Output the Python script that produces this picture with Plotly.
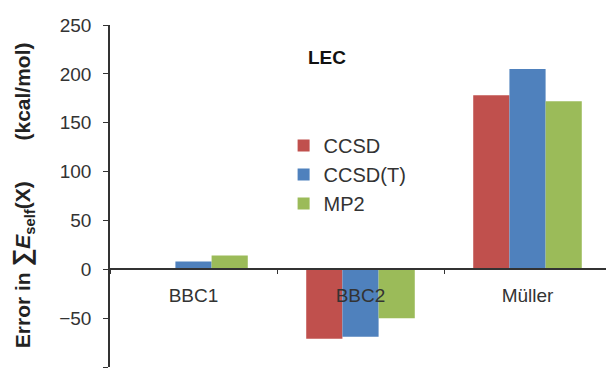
import plotly.graph_objects as go

categories = ["BBC1", "BBC2", "Müller"]
ccsd = [0.5, -71, 178]
ccsd_t = [8, -69, 205]
mp2 = [14, -50, 172]
series_names = ["CCSD", "CCSD(T)", "MP2"]
colors = ["#C0504D", "#4F81BD", "#9BBB59"]
y_ticks = [-100, -50, 0, 50, 100, 150, 200, 250]

FONT = "Liberation Sans, Arial, sans-serif"
SP = "\u00a0" * 7

fig = go.Figure()
for i, (name, vals, col) in enumerate(zip(series_names, [ccsd, ccsd_t, mp2], colors)):
    fig.add_trace(go.Bar(x=categories, y=vals, name=name, marker_color=col,
                         marker_line_width=0, legendgroup=f"g{i}"))

title_text = (f"<b>Error in <span style='font-size:25px'>∑</span><i>E</i>"
              f"<sub>self</sub>(X){SP}(kcal/mol)</b>")

fig.update_layout(
    width=606, height=372,
    margin=dict(l=110, r=0, t=25, b=5, autoexpand=False),
    paper_bgcolor="white", plot_bgcolor="white",
    barmode="group", bargap=0.35, bargroupgap=0,
    font=dict(family=FONT, size=19, color="#333333"),
    showlegend=True,
    legend=dict(x=0.35, y=0.705, xanchor="left", yanchor="top",
                bgcolor="rgba(0,0,0,0)", font=dict(size=20, color="#333333"),
                tracegroupgap=0, itemwidth=30),
    annotations=[
        dict(text="<b>LEC</b>", x=0.438, y=0.942, xref="paper", yref="paper",
             showarrow=False, font=dict(size=19, color="#111111")),
        dict(text=title_text,
             x=-0.177, y=0.503, xref="paper", yref="paper", textangle=-90,
             xanchor="center", yanchor="middle",
             showarrow=False, font=dict(size=21, color="#222222")),
    ],
)
fig.update_xaxes(
    range=[-0.5, 2.47], anchor="free", position=100/350,
    showline=True, linecolor="#333333", linewidth=1.5,
    ticks="outside", tickson="boundaries", ticklen=4, tickcolor="#333333",
    ticklabelstandoff=9, tickfont=dict(size=19, color="#333333"),
    showgrid=False, zeroline=False, automargin=False,
)
fig.update_yaxes(
    range=[-100, 250], tickvals=y_ticks,
    showline=True, linecolor="#333333", linewidth=1.5,
    ticks="outside", ticklen=5, tickcolor="#333333",
    ticklabelstandoff=8,
    tickfont=dict(size=19, color="#333333"),
    showgrid=False, zeroline=False, automargin=False,
)
fig.write_html("out.html", config={"displayModeBar": False},
               post_script="document.body.style.margin='0px';document.body.style.overflow='hidden';")
